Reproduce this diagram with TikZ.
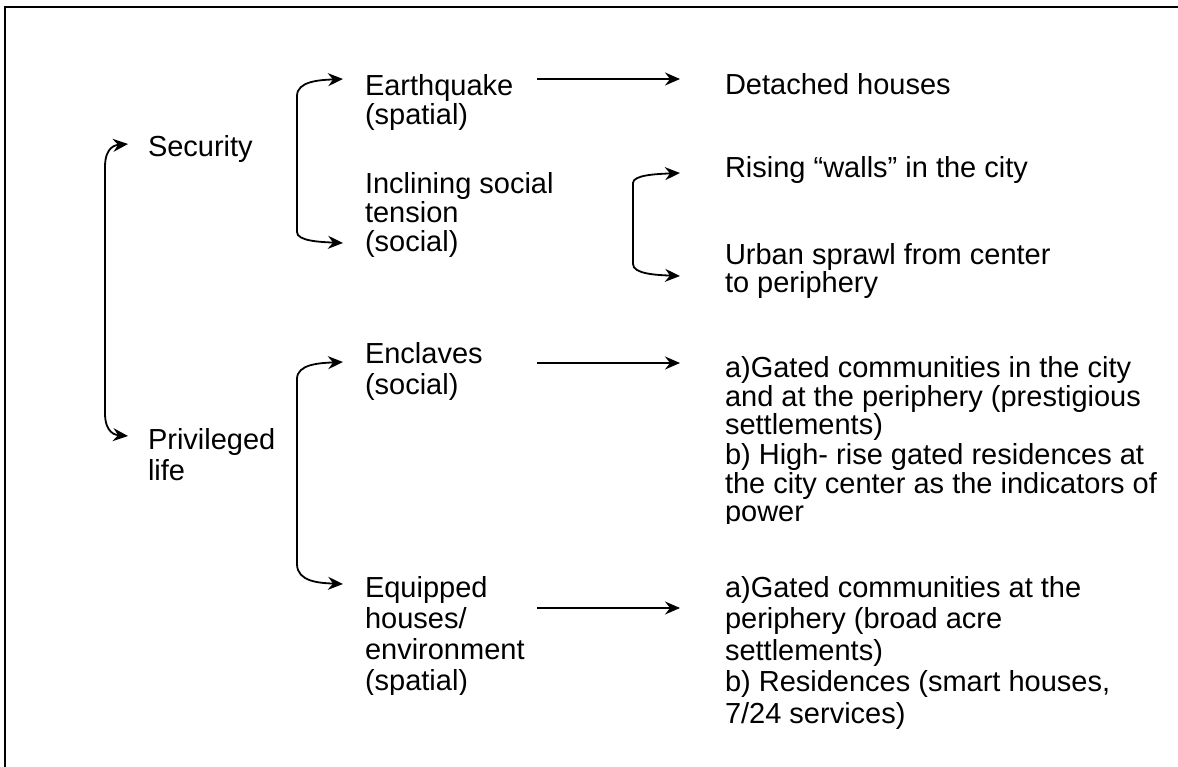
\documentclass[tikz,border=0pt]{standalone}
\usepackage{fontspec}
\setmainfont{Liberation Sans}
\usetikzlibrary{arrows.meta,calc}
\newcommand{\ml}[2]{\fontsize{29}{#1}\selectfont\vtop{\halign{##\hfil\cr#2\crcr}}}
% bracket: top tip, bottom tip, width, top bend height, bottom bend height
\newcommand{\brk}[5]{%
  \draw[bconn] (#1) .. controls ($(#1)+({-0.5*#3},1)$) and ($(#1)+(-#3,2)$) .. ($(#1)+(-#3,#4)$)
    -- ($(#2)+(-#3,-#5)$) .. controls ($(#2)+(-#3,-2)$) and ($(#2)+({-0.5*#3},-1)$) .. (#2);}
\begin{document}
\begin{tikzpicture}[x=1pt,y=-1pt,
  txt/.style={anchor=base west,inner sep=0pt,outer sep=0pt},
  conn/.style={line width=1.8pt,-{Stealth[length=15pt,width=13pt,inset=5pt]}},
  bconn/.style={line width=1.8pt,{Stealth[length=15pt,width=13pt,inset=5pt]}-{Stealth[length=15pt,width=13pt,inset=5pt]}},
  frame/.style={line width=2.2pt}]
\useasboundingbox (0,0) rectangle (1178,767);
\begin{scope}
  \clip (0,0) rectangle (1178,767);
  \draw[frame] (5,7) rectangle (1210,800);
\end{scope}

\node[txt] (sec) at (148,157) {\ml{29}{Security}};
\node[txt] (priv) at (148,449) {\ml{31}{Privileged\cr life}};
\node[txt] (eq) at (365,96) {\ml{29}{Earthquake\cr (spatial)}};
\node[txt] (inc) at (365,194) {\ml{29}{Inclining social\cr tension\cr (social)}};
\node[txt] (encl) at (365,363) {\ml{31}{Enclaves\cr (social)}};
\begin{scope}
  \clip (300,550) rectangle (700,694);
  \node[txt] (equip) at (365,597) {\ml{31}{Equipped\cr houses/\cr environment\cr (spatial)}};
\end{scope}
\node[txt] (det) at (725,95) {\ml{29}{Detached houses}};
\node[txt] (rise) at (725,178) {\ml{29}{Rising “walls” in the city}};
\node[txt] (urban) at (725,265) {\ml{28}{Urban sprawl from center\cr to periphery}};
\begin{scope}
  \clip (700,330) rectangle (1178,523);
  \node[txt] (ga) at (725,377) {\ml{29}{a)Gated communities in the city\cr and at the periphery (prestigious\cr settlements)\cr b) High- rise gated residences at\cr the city center as the indicators of\cr power}};
\end{scope}
\node[txt] (gb) at (725,597) {\ml{31.5}{a)Gated communities at the\cr periphery (broad acre\cr settlements)\cr b) Residences (smart houses,\cr 7/24 services)}};

% bracket tips
\coordinate (t1) at ($(sec.base west)+(-20,-13)$);
\coordinate (b1) at ($(priv.base west)+(-20,-13)$);
\coordinate (t2) at ($(eq.base west)+(-22,-17)$);
\coordinate (b2) at ($(inc.base west)+(-22,49)$);
\coordinate (t3) at ($(rise.base west)+(-45,-5)$);
\coordinate (b3) at ($(urban.base west)+(-45,11)$);
\coordinate (t4) at ($(encl.base west)+(-22,-1)$);
\coordinate (b4) at ($(equip.base west)+(-22,-13)$);

\brk{t1}{b1}{23}{23}{23}
\brk{t2}{b2}{46}{17}{11}
\brk{t3}{b3}{47}{10}{12}
\brk{t4}{b4}{46}{17}{20}

\draw[conn] ($(eq.base west)+(172,-17)$) -- ($(det.base west)+(-45,-16)$);
\draw[conn] ($(encl.base west)+(172,0)$) -- ($(ga.base west)+(-45,-14)$);
\draw[conn] ($(equip.base west)+(172,11)$) -- ($(gb.base west)+(-45,11)$);
\end{tikzpicture}
\end{document}
